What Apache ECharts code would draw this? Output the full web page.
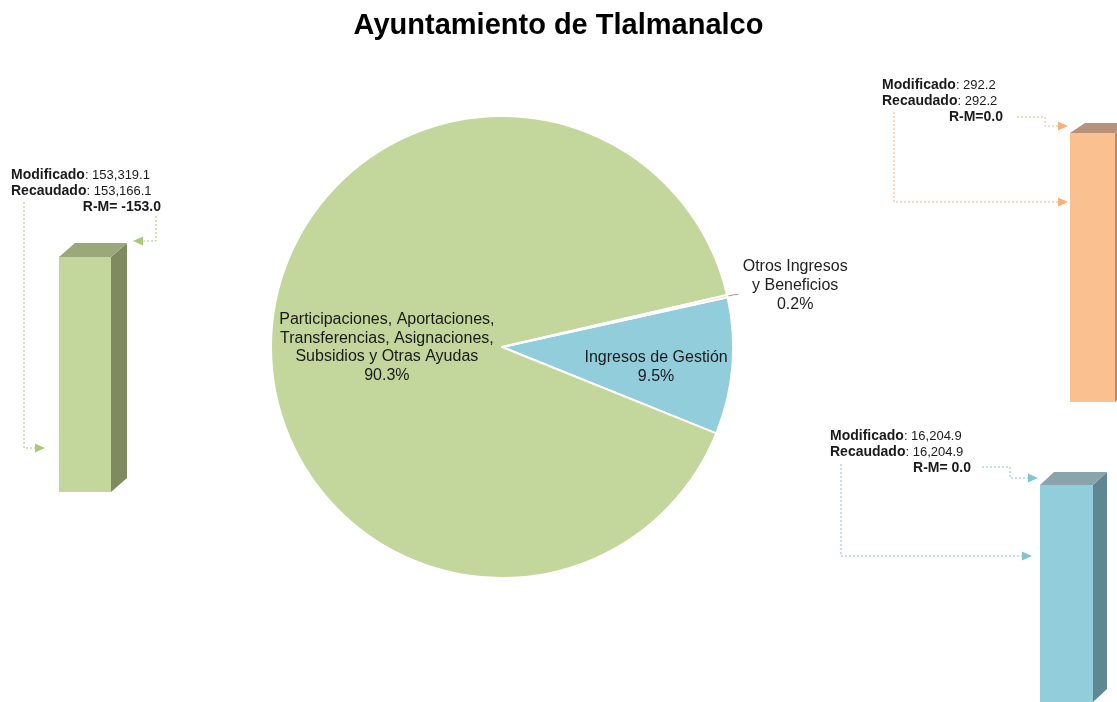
<!DOCTYPE html>
<html><head><meta charset="utf-8">
<script src="https://cdn.jsdelivr.net/npm/echarts@6/dist/echarts.min.js"></script>
<style>html,body{margin:0;padding:0;background:#fff}#c{width:1117px;height:702px}</style>
</head><body><div id="c"></div>
<script>
const categories = ['Ingresos de Gestión', 'Participaciones, Aportaciones, Transferencias, Asignaciones, Subsidios y Otras Ayudas', 'Otros Ingresos y Beneficios'];
const pieLabels = ['Ingresos de Gestión', 'Participaciones, Aportaciones,\nTransferencias, Asignaciones,\nSubsidios y Otras Ayudas', 'Otros Ingresos\ny Beneficios'];
const modificado = [16204.9, 153319.1, 292.2];
const recaudado = [16204.9, 153166.1, 292.2];
const rmLabels = ['R-M= 0.0', 'R-M= -153.0', 'R-M=0.0'];
const sliceColors = ['#92cddc', '#c3d69b', '#fac090'];

const FONT = 'Liberation Sans, Arial, sans-serif';
const fmt = v => v.toLocaleString('en-US', {minimumFractionDigits: 1, maximumFractionDigits: 1});

// 3D box renderer
function boxRenderer(front, side, top, dx, dy) {
  return function (params, api) {
    const pTop = api.coord([api.value(0), api.value(1)]);
    const pBot = api.coord([api.value(0), 0]);
    const w = api.size([1, 0])[0];
    const x0 = pTop[0] - w / 2, x1 = pTop[0] + w / 2;
    const yt = pTop[1], yb = pBot[1];
    return {
      type: 'group',
      children: [
        {type: 'polygon', shape: {points: [[x1, yt], [x1 + dx, yt - dy], [x1 + dx, yb - dy], [x1, yb]]}, style: {fill: side}},
        {type: 'polygon', shape: {points: [[x0, yt], [x0 + dx, yt - dy], [x1 + dx, yt - dy], [x1, yt]]}, style: {fill: top}},
        {type: 'rect', shape: {x: x0, y: yt, width: w, height: yb - yt}, style: {fill: front}}
      ]
    };
  };
}

const panels = [
  {idx: 1, grid: {left: 59, top: 257, width: 52, height: 235}, front: '#c3d69b', side: '#7f8b5f', top: '#9aa87a', dx: 16, dy: 14},
  {idx: 2, grid: {left: 1070, top: 133, width: 45, height: 269}, front: '#fac090', side: '#b88a67', top: '#b8917a', dx: 15, dy: 10},
  {idx: 0, grid: {left: 1040, top: 485, width: 53, height: 300}, front: '#92cddc', side: '#5f8791', top: '#8ba3aa', dx: 14, dy: 13}
];

const grids = [], xAxes = [], yAxes = [], series = [];
panels.forEach((p, i) => {
  grids.push(p.grid);
  xAxes.push({type: 'category', gridIndex: i, data: [categories[p.idx]], show: false});
  yAxes.push({type: 'value', gridIndex: i, min: 0, max: modificado[p.idx], show: false});
  series.push({
    type: 'custom', xAxisIndex: i, yAxisIndex: i, silent: true, clip: false,
    renderItem: boxRenderer(p.front, p.side, p.top, p.dx, p.dy),
    data: [[0, modificado[p.idx]]]
  });
});

const labelShift = [[36, 10], [3, 10], [0, 0]];

series.push({
  type: 'pie',
  center: [502, 347],
  radius: 231,
  startAngle: 12.4,
  clockwise: true,
  percentPrecision: 1,
  silent: true,
  itemStyle: {borderColor: '#fff', borderWidth: 2},
  labelLine: {length: 7, length2: 4, lineStyle: {color: '#999', width: 1}},
  labelLayout: function (params) {
    const s = labelShift[params.dataIndex];
    return {dx: s[0], dy: s[1]};
  },
  data: categories.map((c, i) => {
    const d = {name: c, value: modificado[i], itemStyle: {color: sliceColors[i]}};
    if (i === 2) {
      d.label = {
        position: 'outside', color: '#222', fontFamily: FONT, fontSize: 16,
        padding: [0, 0, 18, 0],
        formatter: p => '{a|Otros Ingresos}\n{a|y Beneficios}\n{a|' + p.percent.toFixed(1) + '%}',
        rich: {a: {width: 104, align: 'center', fontSize: 16, lineHeight: 19, fontFamily: FONT, color: '#222'}}
      };
      d.labelLine = {show: true};
    } else {
      d.label = {
        position: 'inside', color: '#1a1a1a', fontFamily: FONT, fontSize: 16, lineHeight: 18.5, align: 'center',
        formatter: p => pieLabels[i] + '\n' + p.percent.toFixed(1) + '%'
      };
      d.labelLine = {show: false};
    }
    return d;
  })
});

function dashed(points, color) {
  return {type: 'polyline', shape: {points: points}, style: {stroke: color, lineWidth: 1, lineDash: [2, 2], fill: null}, silent: true};
}
function arrowR(tipX, y, color) {
  return {type: 'polygon', shape: {points: [[tipX, y], [tipX - 10, y - 4.5], [tipX - 10, y + 4.5]]}, style: {fill: color}, silent: true};
}
function arrowL(tipX, y, color) {
  return {type: 'polygon', shape: {points: [[tipX, y], [tipX + 10, y - 4.5], [tipX + 10, y + 4.5]]}, style: {fill: color}, silent: true};
}
function annot(x, y, idx, rmRight) {
  return [
    {type: 'text', left: x, top: y, silent: true, style: {
      text: '{b|Modificado}: ' + fmt(modificado[idx]) + '\n{b|Recaudado}: ' + fmt(recaudado[idx]),
      font: '13px ' + FONT, fill: '#1a1a1a', lineHeight: 16,
      rich: {b: {fontWeight: 'bold', fontSize: 14, fontFamily: FONT, fill: '#1a1a1a', lineHeight: 16}}
    }},
    {type: 'text', right: 1117 - rmRight, top: y + 32, silent: true, style: {
      text: rmLabels[idx], font: 'bold 14px ' + FONT, fill: '#1a1a1a', lineHeight: 16
    }}
  ];
}
const gGreen = '#a9c97a', gOrange = '#f5b27a', gBlue = '#82c3d6';
const graphics = [
  {type: 'text', left: 'center', top: 11, silent: true, style: {text: 'Ayuntamiento de Tlalmanalco', font: 'bold 29px ' + FONT, fill: '#000'}},
  ...annot(11, 167, 1, 161),
  ...annot(882, 77, 2, 1003),
  ...annot(830, 428, 0, 971),
  dashed([[24, 202], [24, 448], [36, 448]], gGreen), arrowR(45, 448, gGreen),
  dashed([[156, 216], [156, 241], [144, 241]], gGreen), arrowL(133, 241, gGreen),
  dashed([[1017, 117], [1045, 117], [1045, 126], [1058, 126]], gOrange), arrowR(1068, 126, gOrange),
  dashed([[894, 112], [894, 202], [1058, 202]], gOrange), arrowR(1068, 202, gOrange),
  dashed([[982, 467], [1010, 467], [1010, 478], [1028, 478]], gBlue), arrowR(1038, 478, gBlue),
  dashed([[841, 464], [841, 556], [1022, 556]], gBlue), arrowR(1032, 556, gBlue)
];

const chart = echarts.init(document.getElementById('c'), null, {renderer: 'canvas'});
chart.setOption({
  animation: false,
  backgroundColor: '#fff',
  grid: grids, xAxis: xAxes, yAxis: yAxes,
  series: series,
  graphic: graphics
});
</script></body></html>
